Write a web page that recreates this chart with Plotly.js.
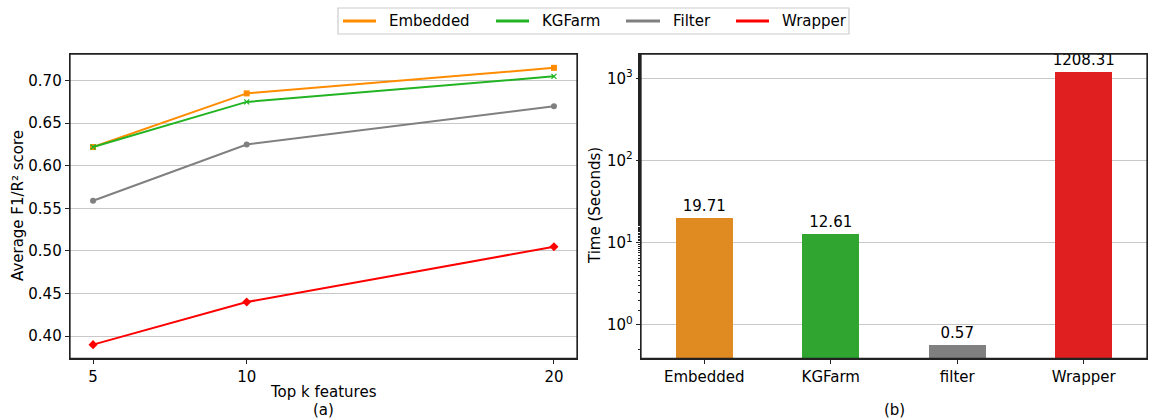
<!DOCTYPE html>
<html>
<head>
<meta charset="utf-8">
<script src="https://cdn.plot.ly/plotly-3.0.1.min.js"></script>
<style>html,body{margin:0;padding:0;background:#fff;}#chart{width:1150px;height:418px;}</style>
</head>
<body>
<div id="chart"></div>
<script>
// ---- data ----
const topK = [5, 10, 20];
const embeddedScore = [0.622, 0.685, 0.715];
const kgfarmScore = [0.622, 0.675, 0.705];
const filterScore = [0.559, 0.625, 0.670];
const wrapperScore = [0.390, 0.440, 0.505];

const methods = ["Embedded", "KGFarm", "filter", "Wrapper"];
const timeSeconds = [19.71, 12.61, 0.57, 1208.31];

const legendNames = ["Embedded", "KGFarm", "Filter", "Wrapper"];
const yTickVals = [0.40, 0.45, 0.50, 0.55, 0.60, 0.65, 0.70];
const logTickVals = [1, 10, 100, 1000];
const logTickText = ["10<sup>0</sup>", "10<sup>1</sup>", "10<sup>2</sup>", "10<sup>3</sup>"];

// ---- styles ----
const W = 1150, H = 418;
const px = v => v / W;
const py = v => 1 - v / H;
const FONT = "DejaVu Sans, sans-serif";
const lineColors = ["#ff8c00", "#22b422", "#808080", "#ff0000"];
const barColors = ["#e08a22", "#30a630", "#808080", "#e02020"];
const markerSyms = ["square", "x-thin-open", "circle", "diamond"];
const scoreSeries = [embeddedScore, kgfarmScore, filterScore, wrapperScore];

const traces = scoreSeries.map((s, i) => ({
  type: "scatter", mode: "lines+markers", x: topK, y: s, name: legendNames[i],
  xaxis: "x", yaxis: "y", showlegend: false, cliponaxis: false,
  line: {color: lineColors[i], width: 2},
  marker: {symbol: markerSyms[i], color: lineColors[i], size: i === 1 ? 5 : (i === 3 ? 7 : 6),
           line: {color: lineColors[i], width: i === 1 ? 1.3 : 0}}
}));

traces.push({
  type: "bar", x: methods, y: timeSeconds, xaxis: "x2", yaxis: "y2", showlegend: false,
  marker: {color: barColors, line: {width: 0}}, width: 0.45,
  text: timeSeconds.map(v => v.toFixed(2)), textposition: "outside", cliponaxis: false,
  constraintext: "none", textangle: 0,
  textfont: {family: FONT, size: 15, color: "#000"}
});

const axisCommon = {
  showline: true, mirror: true, linecolor: "#222", linewidth: 1.3,
  ticks: "outside", ticklen: 4, tickcolor: "#222", tickwidth: 1,
  tickfont: {family: FONT, size: 15, color: "#000"}, zeroline: false, automargin: false
};

const shapes = [];
const annotations = [];
// panel frames
[[70, 577], [641, 1147]].forEach(([a, b]) => {
  shapes.push({type: "path", xref: "paper", yref: "paper",
    path: `M ${px(a)} ${py(358.5)} L ${px(a)} ${py(54)} L ${px(b)} ${py(54)} L ${px(b)} ${py(358.5)} Z`,
    line: {color: "#222", width: 1.3}, layer: "above"});
});
// legend box
shapes.push({type: "rect", xref: "paper", yref: "paper", x0: px(338), x1: px(849), y0: py(34), y1: py(8),
  line: {color: "#cccccc", width: 1.2}, fillcolor: "rgba(255,255,255,0.8)", layer: "above"});
const legLine = [[343, 376], [496, 529], [626, 660], [736, 769]];
const legText = [387, 540, 671, 780];
legendNames.forEach((n, i) => {
  shapes.push({type: "line", xref: "paper", yref: "paper", x0: px(legLine[i][0]), x1: px(legLine[i][1]),
    y0: py(21), y1: py(21), line: {color: lineColors[i], width: 3}, layer: "above"});
  annotations.push({xref: "paper", yref: "paper", x: px(legText[i]), y: py(21), xanchor: "left", yanchor: "middle",
    text: n, showarrow: false, font: {family: FONT, size: 15, color: "#000"}});
});
// axis titles
annotations.push({xref: "paper", yref: "paper", x: px(18), y: py(206), textangle: -90, text: "Average F1/R² score",
  showarrow: false, xanchor: "center", yanchor: "middle", font: {family: FONT, size: 15, color: "#000"}});
annotations.push({xref: "paper", yref: "paper", x: px(595), y: py(206), textangle: -90, text: "Time (Seconds)",
  showarrow: false, xanchor: "center", yanchor: "middle", font: {family: FONT, size: 15, color: "#000"}});
annotations.push({xref: "paper", yref: "paper", x: px(323.5), y: py(392), text: "Top k features",
  showarrow: false, xanchor: "center", yanchor: "middle", font: {family: FONT, size: 15, color: "#000"}});
annotations.push({xref: "paper", yref: "paper", x: px(323.5), y: py(410), text: "(a)",
  showarrow: false, xanchor: "center", yanchor: "middle", font: {family: FONT, size: 15, color: "#000"}});
annotations.push({xref: "paper", yref: "paper", x: px(894), y: py(410), text: "(b)",
  showarrow: false, xanchor: "center", yanchor: "middle", font: {family: FONT, size: 15, color: "#000"}});

const layout = {
  width: W, height: H, margin: {l: 0, r: 0, t: 0, b: 0},
  paper_bgcolor: "#fff", plot_bgcolor: "rgba(0,0,0,0)", showlegend: false,
  font: {family: FONT, size: 15, color: "#000"},
  xaxis: Object.assign({}, axisCommon, {domain: [px(70), px(577)], range: [4.25, 20.75],
    tickvals: topK, ticktext: topK.map(String), showgrid: false}),
  yaxis: Object.assign({}, axisCommon, {domain: [py(358.5), py(54)], range: [0.37375, 0.73125],
    tickvals: yTickVals, tickformat: ".2f", showgrid: true, gridcolor: "#c8c8c8", gridwidth: 1}),
  xaxis2: Object.assign({}, axisCommon, {domain: [px(641), px(1147)], range: [-0.5, 3.5], anchor: "y2",
    showgrid: false}),
  yaxis2: Object.assign({}, axisCommon, {domain: [py(358.5), py(54)], type: "log", range: [-0.41, 3.296],
    anchor: "x2", tickvals: logTickVals, ticktext: logTickText, showgrid: true, gridcolor: "#c8c8c8", gridwidth: 1,
    minor: {ticks: "outside", ticklen: 2, tickcolor: "#222", showgrid: false}}),
  shapes: shapes, annotations: annotations, bargap: 0
};

Plotly.newPlot("chart", traces, layout, {displayModeBar: false, staticPlot: true});
</script>
</body>
</html>
